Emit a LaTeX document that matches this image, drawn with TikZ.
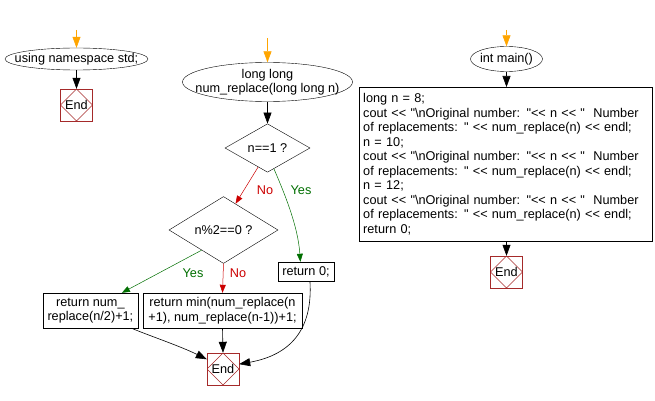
\documentclass[tikz,border=0pt]{standalone}
\usepackage{fontspec}
\newfontfamily\dfont{Liberation Sans}
\usetikzlibrary{shapes.geometric,arrows.meta,calc}
\definecolor{endred}{RGB}{165,42,42}
\definecolor{startor}{RGB}{255,165,0}
\definecolor{yesgreen}{RGB}{0,110,0}
\definecolor{nored}{RGB}{204,0,0}
\begin{document}
\begin{tikzpicture}[x=1pt,y=-1pt,
  every node/.style={font=\dfont\fontsize{12.7}{14.5}\selectfont},
  term/.style={ellipse,draw,inner sep=0pt},
  proc/.style={rectangle,draw,inner sep=0pt},
  dec/.style={diamond,draw,inner sep=0pt},
  endbox/.style={rectangle,draw=endred,minimum size=32pt,inner sep=0pt,
    path picture={\draw[endred] (path picture bounding box.north) -- (path picture bounding box.east) -- (path picture bounding box.south) -- (path picture bounding box.west) -- cycle;}},
  arr/.style={line width=0.6pt,-{Triangle[length=11pt,width=8pt]}},
  sarr/.style={line width=0.5pt,-{Triangle[length=8pt,width=6pt]}},
  lbl/.style={inner sep=0pt}
]
\useasboundingbox (0,0) rectangle (655,401);
% left
\coordinate (s1) at (76.5,30);
\node[term,minimum width=143pt,minimum height=22pt,label={center:using namespace std;}] (ns) at (76.5,59) {};
\node[endbox] (e1) at (76.5,105) {End};
\draw[arr,startor] (s1) -- (ns);
\draw[arr] (ns) -- (e1);
% middle
\coordinate (s2) at (267.5,38);
\node[term,minimum width=170pt,minimum height=39pt,label={[align=center]center:long long\\num\_replace(long long n)}] (fn) at (267.5,82) {};
\node[dec,minimum width=85pt,minimum height=40pt] (d1) at (267.5,148) {n==1 ?};
\node[dec,minimum width=109pt,minimum height=40pt] (d2) at (223.5,230) {n\%2==0 ?};
\node[proc,minimum width=56pt,minimum height=19pt] (r0) at (306,271.5) {return 0;};
\node[proc,minimum width=95pt,minimum height=35pt,align=center] (b1) at (90.4,310.5) {return num\_\\replace(n/2)+1;};
\node[proc,minimum width=159pt,minimum height=35pt,align=center] (b2) at (222.5,310.5) {return min(num\_replace(n\\+1), num\_replace(n-1))+1;};
\node[endbox] (e2) at (223,369) {End};
\draw[arr,startor] (s2) -- (fn);
\draw[arr] (fn) -- (d1);
\draw[sarr,nored] ($(d1.south)!0.22!(d1.west)$) -- ($(d2.north)!0.22!(d2.east)$);
\node[lbl,nored] at (265,190) {No};
\draw[sarr,yesgreen] ($(d1.south)!0.15!(d1.east)$) .. controls (283,190) and (298,225) .. ($(r0.north west)!0.4!(r0.north east)$);
\node[lbl,yesgreen] at (301,190) {Yes};
\draw[sarr,yesgreen] ($(d2.south)!0.4!(d2.west)$) -- ($(b1.north west)!0.83!(b1.north east)$);
\node[lbl,yesgreen] at (193,273) {Yes};
\draw[sarr,nored] (d2.south) -- (b2.north);
\node[lbl,nored] at (238,273) {No};
\draw[arr] ($(b1.south west)!0.93!(b1.south east)$) .. controls (150,336) and (180,346) .. ($(e2.north west)!0.2!(e2.south west)$);
\draw[arr] (b2.south) -- (e2.north);
\draw[arr] ($(r0.south west)!0.57!(r0.south east)$) .. controls (313,330) and (290,355) .. ($(e2.north east)!0.35!(e2.south east)$);
% right
\coordinate (s3) at (506.5,30);
\node[term,minimum width=72pt,minimum height=25pt,label={center:int main()}] (mn) at (506.5,59) {};
\node[proc,minimum height=154pt,text width=285pt,inner xsep=4pt,align=left,anchor=north west] (mb) at (359,87) {long n = 8;\\
cout << "\textbackslash nOriginal number: "<< n << " \ Number\\
of replacements: " << num\_replace(n) << endl;\\
n = 10;\\
cout << "\textbackslash nOriginal number: "<< n << " \ Number\\
of replacements: " << num\_replace(n) << endl;\\
n = 12;\\
cout << "\textbackslash nOriginal number: "<< n << " \ Number\\
of replacements: " << num\_replace(n) << endl;\\
return 0;};
\node[endbox] (e3) at (506.5,272) {End};
\draw[arr,startor] (s3) -- (mn);
\draw[arr] (mn) -- (mb.north -| mn);
\draw[arr] (mb.south -| e3) -- (e3);
\end{tikzpicture}
\end{document}
